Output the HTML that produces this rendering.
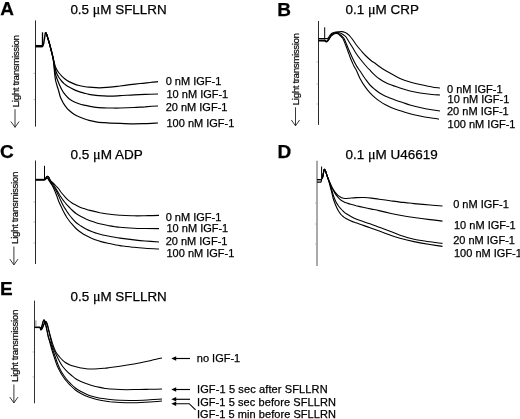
<!DOCTYPE html>
<html><head><meta charset="utf-8"><title>Figure</title>
<style>
html,body{margin:0;padding:0;background:#fff;}
svg{display:block;}
text{font-family:"Liberation Sans",sans-serif;fill:#000;stroke:#000;stroke-width:0.25px;}
</style></head>
<body>
<svg width="520" height="419" viewBox="0 0 520 419" font-size="11">
<rect width="520" height="419" fill="#fff"/>
<text x="0.2" y="15.2" font-size="19" font-weight="bold">A</text>
<text x="70.4" y="13.9" font-size="13.4" textLength="96.3" lengthAdjust="spacingAndGlyphs">0.5 <tspan font-family="'Liberation Serif',serif" font-size="14">μ</tspan>M SFLLRN</text>
<path d="M35.5,20.4V126.6" stroke="#2a2a2a" stroke-width="1" fill="none"/><path d="M33.5,73.4h1.6" stroke="#aaa" stroke-width="0.8" fill="none"/><path d="M33.5,99.6h1.6" stroke="#aaa" stroke-width="0.8" fill="none"/>
<text transform="translate(18.8,107.2) rotate(-90)" font-size="9.9" textLength="72.3" lengthAdjust="spacing" style="stroke-width:0.2px">Light transmission</text><path d="M15.0,109.2V127.3M10.9,121.5L15.0,127.3L19.1,121.5" stroke="#222" stroke-width="0.9" fill="none"/>
<g fill="none" stroke="#000" stroke-width="1.20" stroke-linejoin="round" stroke-linecap="butt"><path d="M35.5,46.2H42.6" stroke-width="2.5"/><path d="M42.5,47V32.3" stroke-width="1.3"/><path d="M42.7,46.2L43.7,43.5L45.4,32.5" stroke-width="1.5"/><path d="M45.4,32.5C45.6,32.7 45.9,32.5 46.4,33.8C46.9,35.0 47.8,38.0 48.4,40.0C49.0,42.0 49.5,43.8 50.0,45.7C50.5,47.6 51.0,49.5 51.5,51.5C52.0,53.5 52.5,55.9 53.0,57.7C53.5,59.5 53.8,61.0 54.2,62.5C54.6,64.0 55.0,65.8 55.5,67.0C56.0,68.2 56.4,69.0 57.0,70.0C57.6,71.0 58.2,72.0 59.0,73.0C59.8,74.0 61.0,75.3 62.0,76.3C63.0,77.3 63.8,78.1 65.0,79.0C66.2,79.9 67.5,80.8 69.0,81.6C70.5,82.4 72.3,83.2 74.0,83.9C75.7,84.6 77.3,85.1 79.0,85.5C80.7,85.9 82.3,86.2 84.0,86.5C85.7,86.8 87.0,87.0 89.0,87.2C91.0,87.4 93.7,87.6 96.0,87.7C98.3,87.8 100.7,87.8 103.0,87.7C105.3,87.6 107.2,87.5 110.0,87.2C112.8,86.9 116.7,86.4 120.0,86.0C123.3,85.6 126.7,85.1 130.0,84.7C133.3,84.3 136.7,83.9 140.0,83.5C143.3,83.1 147.0,82.8 150.0,82.5C153.0,82.2 156.7,81.8 158.0,81.6"/><path d="M45.4,32.5C45.6,32.7 45.9,32.5 46.4,33.8C46.9,35.0 47.8,38.0 48.4,40.0C49.0,42.0 49.5,43.8 50.0,45.7C50.5,47.6 51.0,49.5 51.5,51.5C52.0,53.5 52.6,55.8 53.0,57.7C53.4,59.6 53.7,61.0 54.1,63.0C54.5,65.0 55.0,68.2 55.5,70.0C56.0,71.8 56.5,72.9 57.0,74.0C57.5,75.1 58.0,76.0 58.5,76.8C59.0,77.6 59.4,78.2 60.0,79.0C60.6,79.8 61.3,80.7 62.0,81.5C62.7,82.3 63.2,82.9 64.0,83.6C64.8,84.3 65.7,84.9 66.5,85.5C67.3,86.1 67.8,86.3 69.0,87.0C70.2,87.7 72.3,88.8 74.0,89.6C75.7,90.4 77.3,91.0 79.0,91.6C80.7,92.2 82.3,92.6 84.0,93.1C85.7,93.5 87.0,93.9 89.0,94.3C91.0,94.7 93.7,95.1 96.0,95.4C98.3,95.7 100.7,95.8 103.0,95.9C105.3,96.0 107.2,96.1 110.0,96.1C112.8,96.1 116.0,95.9 120.0,95.7C124.0,95.5 129.8,95.0 134.0,94.8C138.2,94.6 141.0,94.5 145.0,94.4C149.0,94.3 155.8,94.1 158.0,94.0"/><path d="M45.4,32.5C45.6,32.7 45.9,32.5 46.4,33.8C46.9,35.0 47.8,38.0 48.4,40.0C49.0,42.0 49.5,43.8 50.0,45.7C50.5,47.6 51.0,49.5 51.5,51.5C52.0,53.5 52.6,55.6 53.0,57.7C53.4,59.8 53.7,61.6 54.0,64.0C54.3,66.4 54.7,70.0 55.0,72.0C55.3,74.0 55.5,74.5 56.0,76.0C56.5,77.5 57.3,79.5 58.0,81.2C58.7,82.9 59.3,84.5 60.0,86.0C60.7,87.5 61.3,88.8 62.0,90.0C62.7,91.2 63.2,92.2 64.0,93.2C64.8,94.2 65.7,95.3 66.5,96.2C67.3,97.1 67.8,97.8 69.0,98.7C70.2,99.6 72.3,101.0 74.0,101.8C75.7,102.6 77.3,103.2 79.0,103.8C80.7,104.4 82.3,104.8 84.0,105.2C85.7,105.6 87.0,105.9 89.0,106.2C91.0,106.5 93.7,107.0 96.0,107.3C98.3,107.6 100.7,107.7 103.0,107.8C105.3,107.9 107.2,108.0 110.0,108.0C112.8,108.0 116.0,108.1 120.0,108.0C124.0,107.9 129.8,107.7 134.0,107.5C138.2,107.3 141.0,107.0 145.0,106.8C149.0,106.5 155.8,106.1 158.0,106.0"/><path d="M45.4,32.5C45.6,32.7 45.9,32.5 46.4,33.8C46.9,35.0 47.8,38.0 48.4,40.0C49.0,42.0 49.5,43.8 50.0,45.7C50.5,47.6 51.0,49.5 51.5,51.5C52.0,53.5 52.6,55.5 53.0,57.7C53.4,59.9 53.5,62.0 53.8,64.5C54.1,67.0 54.3,70.4 54.6,73.0C54.9,75.6 55.1,77.9 55.5,80.0C55.9,82.1 56.5,83.7 57.0,85.5C57.5,87.3 58.2,89.2 58.7,91.0C59.2,92.8 59.5,94.4 60.0,96.0C60.5,97.6 61.3,99.1 62.0,100.5C62.7,101.9 63.2,103.0 64.0,104.2C64.8,105.4 65.7,106.6 66.5,107.6C67.3,108.6 67.8,109.2 69.0,110.3C70.2,111.4 72.3,113.2 74.0,114.3C75.7,115.4 77.3,116.1 79.0,116.8C80.7,117.5 82.3,118.1 84.0,118.7C85.7,119.3 87.0,119.8 89.0,120.3C91.0,120.8 93.7,121.4 96.0,121.8C98.3,122.2 100.7,122.4 103.0,122.6C105.3,122.8 107.2,123.0 110.0,123.1C112.8,123.2 116.0,123.3 120.0,123.4C124.0,123.5 129.8,123.8 134.0,123.8C138.2,123.8 141.0,123.7 145.0,123.6C149.0,123.5 155.8,123.1 158.0,123.0"/></g>
<text x="165.7" y="85.0">0 nM IGF-1</text>
<text x="166.5" y="98.2">10 nM IGF-1</text>
<text x="165.7" y="110.5">20 nM IGF-1</text>
<text x="166.5" y="127.0">100 nM IGF-1</text>
<text x="277.2" y="15.5" font-size="19" font-weight="bold">B</text>
<text x="345.6" y="13.9" font-size="13.4" textLength="73.3" lengthAdjust="spacingAndGlyphs">0.1 <tspan font-family="'Liberation Serif',serif" font-size="14">μ</tspan>M CRP</text>
<path d="M318.5,21.0V124.9" stroke="#2a2a2a" stroke-width="1" fill="none"/><path d="M316.5,62.0h1.6" stroke="#aaa" stroke-width="0.8" fill="none"/><path d="M316.5,84.0h1.6" stroke="#aaa" stroke-width="0.8" fill="none"/><path d="M316.5,104.0h1.6" stroke="#aaa" stroke-width="0.8" fill="none"/>
<text transform="translate(299.3,105.2) rotate(-90)" font-size="9.9" textLength="72.3" lengthAdjust="spacing" style="stroke-width:0.2px">Light transmission</text><path d="M295.5,107.3V125.8M291.4,120.0L295.5,125.8L299.6,120.0" stroke="#222" stroke-width="0.9" fill="none"/>
<g fill="none" stroke="#000" stroke-width="1.10" stroke-linejoin="round" stroke-linecap="butt"><path d="M324.7,27.3V39.5" stroke-width="1"/><path d="M318.5,38.5L324.5,38.5C325.1,38.5 327.0,38.9 328.0,38.2C329.0,37.6 329.7,35.5 330.5,34.6C331.3,33.7 332.1,33.2 333.0,32.8C333.9,32.4 335.0,32.2 336.0,32.0C337.0,31.8 338.0,31.8 339.0,31.7C340.0,31.6 341.1,31.5 342.0,31.6C342.9,31.7 343.7,31.9 344.5,32.2C345.3,32.5 346.2,33.0 347.0,33.5C347.8,34.0 348.3,34.5 349.0,35.2C349.7,35.9 350.2,36.6 351.0,37.5C351.8,38.4 352.7,39.6 353.5,40.8C354.3,42.0 354.8,42.9 356.0,44.5C357.2,46.1 359.3,48.6 361.0,50.5C362.7,52.4 364.3,54.3 366.0,56.0C367.7,57.7 369.3,59.2 371.0,60.5C372.7,61.8 374.5,62.9 376.0,64.0C377.5,65.1 378.5,66.0 380.0,67.0C381.5,68.0 383.3,69.2 385.0,70.2C386.7,71.2 387.5,71.6 390.0,73.0C392.5,74.4 396.7,76.9 400.0,78.4C403.3,79.9 406.7,81.0 410.0,82.0C413.3,83.0 416.3,83.7 420.0,84.5C423.7,85.3 428.7,86.4 432.0,87.0C435.3,87.6 438.7,87.8 440.0,88.0"/><path d="M318.5,40.0L325.0,40.1C325.2,40.3 325.8,41.2 326.2,41.2C326.6,41.2 327.1,40.8 327.6,40.3C328.1,39.8 328.7,38.8 329.3,38.0C329.9,37.2 330.3,36.1 331.0,35.3C331.7,34.5 332.6,33.9 333.5,33.4C334.4,32.9 335.5,32.6 336.5,32.5C337.5,32.4 338.5,32.5 339.5,32.8C340.5,33.1 341.7,33.7 342.5,34.2C343.3,34.7 343.9,35.1 344.5,35.6C345.1,36.1 345.3,36.1 346.0,37.0C346.7,37.9 347.7,39.7 348.5,41.0C349.3,42.3 350.2,43.7 351.0,45.0C351.8,46.3 352.7,47.6 353.5,49.0C354.3,50.4 354.8,51.4 356.0,53.2C357.2,55.0 359.3,57.9 361.0,60.0C362.7,62.1 364.5,64.3 366.0,66.0C367.5,67.7 368.5,68.7 370.0,70.2C371.5,71.8 373.3,73.8 375.0,75.3C376.7,76.8 378.3,78.0 380.0,79.2C381.7,80.4 383.3,81.3 385.0,82.2C386.7,83.1 387.5,83.5 390.0,84.5C392.5,85.5 396.7,86.9 400.0,88.0C403.3,89.1 406.7,90.2 410.0,91.0C413.3,91.8 416.3,92.4 420.0,93.0C423.7,93.6 428.7,94.2 432.0,94.5C435.3,94.8 438.7,94.9 440.0,95.0"/><path d="M318.5,40.5L325.0,40.6C325.2,40.8 325.8,41.6 326.2,41.6C326.6,41.6 327.1,41.3 327.6,40.8C328.1,40.3 328.7,39.2 329.3,38.4C329.9,37.6 330.3,36.6 331.0,35.8C331.7,35.0 332.7,34.3 333.5,33.8C334.3,33.3 335.2,33.1 336.0,33.0C336.8,32.9 337.8,33.1 338.5,33.4C339.2,33.7 339.8,34.4 340.5,35.0C341.2,35.6 341.9,36.2 342.5,36.8C343.1,37.4 343.4,37.5 344.0,38.5C344.6,39.5 345.3,41.4 346.0,43.0C346.7,44.6 347.0,45.7 348.0,48.0C349.0,50.3 350.7,54.2 352.0,57.0C353.3,59.8 354.7,62.7 356.0,65.0C357.3,67.3 358.5,68.8 360.0,71.0C361.5,73.2 363.3,76.2 365.0,78.5C366.7,80.8 368.3,83.2 370.0,85.0C371.7,86.8 373.3,88.1 375.0,89.5C376.7,90.9 378.3,92.2 380.0,93.3C381.7,94.4 383.3,95.2 385.0,96.0C386.7,96.8 388.3,97.3 390.0,98.0C391.7,98.7 393.0,99.3 395.0,100.0C397.0,100.7 399.5,101.5 402.0,102.3C404.5,103.1 407.0,104.1 410.0,105.0C413.0,105.9 416.7,106.8 420.0,107.5C423.3,108.2 426.7,108.9 430.0,109.5C433.3,110.1 438.3,110.8 440.0,111.0"/><path d="M318.5,41.0L325.0,41.0C325.2,41.2 325.8,42.0 326.2,42.0C326.6,42.0 327.1,41.7 327.6,41.2C328.1,40.7 328.7,39.6 329.3,38.8C329.9,38.0 330.3,37.0 331.0,36.2C331.7,35.4 332.7,34.7 333.5,34.2C334.3,33.7 335.1,33.5 335.8,33.4C336.6,33.3 337.3,33.4 338.0,33.8C338.7,34.2 339.4,35.1 340.0,35.6C340.6,36.1 341.0,36.5 341.5,37.0C342.0,37.5 342.2,37.3 343.0,38.8C343.8,40.3 345.1,43.8 346.0,46.0C346.9,48.2 347.5,50.2 348.2,52.0C348.9,53.8 349.4,55.4 350.0,57.0C350.6,58.6 351.3,60.2 352.0,61.7C352.7,63.2 353.2,64.8 354.0,66.3C354.8,67.8 355.5,68.5 356.5,70.5C357.5,72.5 358.6,75.8 360.0,78.5C361.4,81.2 363.3,84.2 365.0,86.6C366.7,89.0 368.3,91.0 370.0,92.8C371.7,94.6 373.3,96.2 375.0,97.6C376.7,99.0 378.3,100.2 380.0,101.4C381.7,102.6 383.3,103.6 385.0,104.5C386.7,105.4 388.3,106.2 390.0,107.0C391.7,107.8 393.0,108.3 395.0,109.0C397.0,109.7 399.5,110.5 402.0,111.3C404.5,112.1 407.0,113.0 410.0,113.8C413.0,114.6 416.7,115.3 420.0,116.0C423.3,116.7 426.8,117.3 430.0,117.8C433.2,118.3 437.5,119.0 439.0,119.2"/></g>
<text x="447.0" y="93.0">0 nM IGF-1</text>
<text x="447.6" y="102.8">10 nM IGF-1</text>
<text x="447.0" y="115.4">20 nM IGF-1</text>
<text x="447.6" y="127.8">100 nM IGF-1</text>
<text x="0.0" y="158.2" font-size="19" font-weight="bold">C</text>
<text x="70.5" y="159.4" font-size="13.4" textLength="72.3" lengthAdjust="spacingAndGlyphs">0.5 <tspan font-family="'Liberation Serif',serif" font-size="14">μ</tspan>M ADP</text>
<path d="M35.5,160.5V264.0" stroke="#2a2a2a" stroke-width="1" fill="none"/><path d="M33.5,202.0h1.6" stroke="#aaa" stroke-width="0.8" fill="none"/><path d="M33.5,222.0h1.6" stroke="#aaa" stroke-width="0.8" fill="none"/><path d="M33.5,243.0h1.6" stroke="#aaa" stroke-width="0.8" fill="none"/>
<text transform="translate(18.1,243.9) rotate(-90)" font-size="9.9" textLength="72.3" lengthAdjust="spacing" style="stroke-width:0.2px">Light transmission</text><path d="M13.9,246.5V264.9M9.8,259.1L13.9,264.9L18.0,259.1" stroke="#222" stroke-width="0.9" fill="none"/>
<g fill="none" stroke="#000" stroke-width="1.10" stroke-linejoin="round" stroke-linecap="butt"><path d="M35.5,179.8H44.6" stroke-width="2"/><path d="M44.5,165.8V180.4" stroke-width="1"/><path d="M45.0,179.8C45.2,179.4 45.6,178.2 46.0,177.6C46.4,177.0 46.8,176.2 47.3,176.2C47.8,176.1 48.3,176.6 48.8,177.3C49.3,178.0 49.8,179.6 50.5,180.5C51.2,181.4 52.1,181.9 53.0,182.8C53.9,183.7 55.0,184.9 56.0,186.0C57.0,187.1 58.4,188.5 59.2,189.5C60.0,190.5 59.8,190.8 60.8,192.0C61.8,193.2 63.7,195.4 65.0,196.8C66.3,198.2 67.3,199.4 68.5,200.4C69.7,201.4 70.8,202.2 72.0,203.0C73.2,203.8 74.7,204.5 76.0,205.2C77.3,205.9 78.7,206.6 80.0,207.2C81.3,207.8 82.3,208.0 84.0,208.5C85.7,209.0 87.3,209.7 90.0,210.4C92.7,211.1 96.7,212.0 100.0,212.7C103.3,213.3 106.7,213.9 110.0,214.3C113.3,214.7 116.0,214.9 120.0,215.2C124.0,215.4 129.8,215.7 134.0,215.8C138.2,215.9 140.8,215.8 145.0,215.7C149.2,215.6 156.7,215.4 159.0,215.4"/><path d="M45.0,179.8C45.2,179.4 45.6,178.2 46.0,177.6C46.4,177.0 46.8,176.2 47.3,176.2C47.8,176.1 48.3,176.5 48.8,177.3C49.3,178.1 49.7,179.7 50.4,180.8C51.1,181.9 52.1,182.7 53.0,184.0C53.9,185.3 55.0,187.1 56.0,188.8C57.0,190.5 58.3,192.7 59.2,194.2C60.1,195.7 60.7,196.6 61.5,197.8C62.3,199.0 63.2,200.2 64.0,201.3C64.8,202.4 65.7,203.5 66.5,204.4C67.3,205.3 68.1,206.1 69.0,207.0C69.9,207.9 70.8,208.9 72.0,210.0C73.2,211.1 74.5,212.4 76.0,213.5C77.5,214.6 79.3,215.7 81.0,216.6C82.7,217.5 84.3,218.3 86.0,219.1C87.7,219.8 89.3,220.5 91.0,221.1C92.7,221.7 94.3,222.2 96.0,222.7C97.7,223.2 99.0,223.5 101.0,224.0C103.0,224.5 105.7,225.1 108.0,225.5C110.3,225.9 113.0,226.4 115.0,226.7C117.0,227.0 116.8,227.1 120.0,227.3C123.2,227.6 129.8,228.0 134.0,228.2C138.2,228.4 140.8,228.4 145.0,228.5C149.2,228.6 156.7,228.6 159.0,228.6"/><path d="M45.0,179.8C45.2,179.6 45.8,178.9 46.2,178.6C46.6,178.2 47.0,177.6 47.4,177.7C47.8,177.8 48.0,178.7 48.5,179.4C49.0,180.1 49.5,180.9 50.2,181.8C50.9,182.7 51.6,183.7 52.5,185.0C53.4,186.3 54.5,188.0 55.4,189.6C56.3,191.2 57.1,192.7 58.0,194.5C58.9,196.3 59.9,198.6 60.8,200.5C61.7,202.4 62.6,204.4 63.5,206.0C64.4,207.6 65.2,208.7 66.0,210.0C66.8,211.3 67.7,212.6 68.5,213.8C69.3,215.0 69.8,215.6 71.0,217.0C72.2,218.4 74.3,221.0 76.0,222.5C77.7,224.0 79.3,224.9 81.0,226.0C82.7,227.1 84.3,228.1 86.0,229.0C87.7,229.9 89.3,230.6 91.0,231.3C92.7,232.0 94.3,232.6 96.0,233.1C97.7,233.6 99.0,234.0 101.0,234.5C103.0,235.0 105.7,235.5 108.0,236.0C110.3,236.5 113.0,237.0 115.0,237.3C117.0,237.7 116.8,237.7 120.0,238.1C123.2,238.5 129.8,239.4 134.0,239.9C138.2,240.4 140.8,240.7 145.0,241.0C149.2,241.3 156.7,241.8 159.0,242.0"/><path d="M45.0,179.8C45.2,179.6 45.8,178.9 46.2,178.6C46.6,178.2 47.0,177.6 47.4,177.7C47.8,177.8 48.1,178.7 48.5,179.4C48.9,180.1 49.4,181.0 50.0,182.0C50.6,183.0 51.5,184.2 52.3,185.6C53.0,187.0 53.7,188.4 54.5,190.2C55.3,192.0 56.2,194.5 57.0,196.5C57.8,198.5 58.3,200.4 59.0,202.0C59.7,203.6 60.2,204.7 61.0,206.3C61.8,207.9 62.7,209.9 63.5,211.5C64.3,213.1 65.2,214.6 66.0,216.0C66.8,217.4 67.7,218.6 68.5,219.8C69.3,221.0 69.8,221.6 71.0,223.0C72.2,224.4 74.3,226.9 76.0,228.5C77.7,230.1 79.3,231.3 81.0,232.5C82.7,233.7 84.3,234.7 86.0,235.6C87.7,236.5 89.3,237.3 91.0,238.1C92.7,238.8 94.3,239.5 96.0,240.1C97.7,240.7 99.0,241.1 101.0,241.6C103.0,242.1 105.7,242.7 108.0,243.2C110.3,243.7 113.0,244.3 115.0,244.7C117.0,245.1 116.8,245.2 120.0,245.6C123.2,246.0 129.8,246.9 134.0,247.3C138.2,247.8 140.8,248.0 145.0,248.3C149.2,248.6 156.7,248.9 159.0,249.0"/></g>
<text x="165.7" y="220.7">0 nM IGF-1</text>
<text x="166.5" y="232.0">10 nM IGF-1</text>
<text x="165.7" y="244.5">20 nM IGF-1</text>
<text x="166.5" y="257.0">100 nM IGF-1</text>
<text x="277.4" y="158.2" font-size="19" font-weight="bold">D</text>
<text x="345.5" y="159.4" font-size="13.4" textLength="92.3" lengthAdjust="spacingAndGlyphs">0.1 <tspan font-family="'Liberation Serif',serif" font-size="14">μ</tspan>M U46619</text>
<path d="M317.0,160.8V266.0" stroke="#555" stroke-width="1" fill="none"/><path d="M315.0,203.0h1.6" stroke="#aaa" stroke-width="0.8" fill="none"/><path d="M315.0,224.0h1.6" stroke="#aaa" stroke-width="0.8" fill="none"/><path d="M315.0,244.0h1.6" stroke="#aaa" stroke-width="0.8" fill="none"/>
<g fill="none" stroke="#000" stroke-width="1.10" stroke-linejoin="round" stroke-linecap="butt"><path d="M317,179.7H321.6" stroke-width="1.4"/><path d="M317,182.1H321L321.7,179.5" stroke-width="1.1"/><path d="M321.6,180V166.5" stroke-width="1"/><path d="M322.3,178.5C322.4,178.0 322.7,177.0 323.0,175.5C323.3,174.0 323.8,170.1 324.2,169.4C324.6,168.7 325.1,170.2 325.7,171.5C326.2,172.8 326.9,175.2 327.5,177.0C328.1,178.8 328.9,180.5 329.6,182.0C330.3,183.5 330.9,184.9 331.5,186.2C332.1,187.5 332.7,188.6 333.3,189.6C333.9,190.6 334.5,191.4 335.2,192.3C335.9,193.2 336.7,194.1 337.5,194.8C338.3,195.6 339.2,196.2 340.0,196.8C340.8,197.4 341.7,197.8 342.5,198.1C343.3,198.4 344.0,198.5 345.0,198.5C346.0,198.5 346.7,198.5 348.5,198.3C350.3,198.2 353.4,197.7 356.0,197.6C358.6,197.5 361.4,197.4 364.0,197.5C366.6,197.6 369.0,197.8 371.5,198.1C374.0,198.4 375.9,198.8 379.0,199.2C382.1,199.6 386.5,200.2 390.0,200.7C393.5,201.2 397.3,201.8 400.0,202.1C402.7,202.4 403.7,202.3 406.0,202.6C408.3,202.8 410.0,203.2 414.0,203.6C418.0,204.0 425.2,204.6 430.0,205.0C434.8,205.4 440.4,205.8 442.5,206.0"/><path d="M322.3,178.5C322.4,178.0 322.7,177.0 323.0,175.5C323.3,174.0 323.8,170.1 324.2,169.4C324.6,168.7 325.1,170.2 325.7,171.5C326.2,172.8 326.9,175.2 327.5,177.0C328.1,178.8 328.9,180.5 329.5,182.1C330.1,183.7 330.8,185.2 331.4,186.5C332.0,187.8 332.7,189.0 333.3,190.2C333.9,191.4 334.5,192.5 335.2,193.6C335.9,194.7 336.9,195.9 337.7,196.9C338.5,197.9 339.2,198.6 340.0,199.3C340.8,200.0 341.5,200.5 342.3,201.0C343.1,201.5 344.0,202.0 345.0,202.4C346.0,202.8 346.7,203.1 348.5,203.6C350.3,204.1 353.4,205.0 356.0,205.7C358.6,206.3 361.4,206.9 364.0,207.5C366.6,208.1 369.0,208.6 371.5,209.1C374.0,209.6 375.9,209.9 379.0,210.6C382.1,211.3 386.5,212.4 390.0,213.2C393.5,214.0 396.0,214.6 400.0,215.3C404.0,216.0 409.0,216.8 414.0,217.5C419.0,218.2 425.2,219.0 430.0,219.6C434.8,220.2 440.4,220.8 442.5,221.1"/><path d="M322.3,178.5C322.4,178.0 322.7,177.0 323.0,175.5C323.3,174.0 323.8,170.1 324.2,169.4C324.6,168.7 325.1,170.2 325.7,171.5C326.2,172.8 326.9,175.2 327.5,177.0C328.1,178.8 328.8,180.6 329.4,182.3C330.0,184.1 330.5,185.8 331.0,187.5C331.5,189.2 332.0,190.9 332.5,192.5C333.0,194.1 333.4,195.7 334.0,197.3C334.6,198.9 335.2,200.6 336.0,202.0C336.8,203.4 337.7,204.8 338.5,206.0C339.3,207.2 340.2,208.1 341.0,209.0C341.8,209.9 342.7,210.8 343.5,211.5C344.3,212.2 344.8,212.7 346.0,213.5C347.2,214.3 349.3,215.6 351.0,216.5C352.7,217.4 354.3,218.3 356.0,219.0C357.7,219.7 358.7,220.0 361.0,220.8C363.3,221.6 366.8,222.7 370.0,223.8C373.2,224.9 376.7,226.3 380.0,227.5C383.3,228.7 386.7,229.9 390.0,231.2C393.3,232.5 396.0,233.9 400.0,235.2C404.0,236.5 409.0,238.1 414.0,239.2C419.0,240.3 425.2,241.1 430.0,241.8C434.8,242.5 440.4,243.1 442.5,243.4"/><path d="M322.3,178.5C322.4,178.0 322.7,177.0 323.0,175.5C323.3,174.0 323.8,170.1 324.2,169.4C324.6,168.7 325.1,170.2 325.7,171.5C326.2,172.8 326.9,175.2 327.5,177.0C328.1,178.8 328.7,180.7 329.2,182.5C329.7,184.3 330.2,186.3 330.6,188.0C331.0,189.7 331.3,190.6 331.8,192.5C332.3,194.4 332.8,197.2 333.5,199.5C334.2,201.8 335.2,204.1 336.0,206.0C336.8,207.9 337.7,209.6 338.5,211.0C339.3,212.4 340.2,213.5 341.0,214.5C341.8,215.5 342.7,216.1 343.5,216.8C344.3,217.5 344.8,217.8 346.0,218.5C347.2,219.2 349.5,220.3 351.0,221.0C352.5,221.7 353.5,222.0 355.0,222.5C356.5,223.0 357.5,223.3 360.0,224.2C362.5,225.1 366.7,226.5 370.0,227.7C373.3,228.9 376.7,230.1 380.0,231.3C383.3,232.5 386.7,233.8 390.0,235.0C393.3,236.2 396.0,237.2 400.0,238.3C404.0,239.4 409.0,240.6 414.0,241.6C419.0,242.6 425.2,243.7 430.0,244.5C434.8,245.3 440.4,246.1 442.5,246.4"/></g>
<text x="453.2" y="208.2">0 nM IGF-1</text>
<text x="454.0" y="228.6">10 nM IGF-1</text>
<text x="453.2" y="244.1">20 nM IGF-1</text>
<text x="454.0" y="256.6">100 nM IGF-1</text>
<text x="0.0" y="295.1" font-size="19" font-weight="bold">E</text>
<text x="70.5" y="300.6" font-size="13.4" textLength="96.3" lengthAdjust="spacingAndGlyphs">0.5 <tspan font-family="'Liberation Serif',serif" font-size="14">μ</tspan>M SFLLRN</text>
<path d="M34.5,300.6V403.3" stroke="#333" stroke-width="1" fill="none"/><path d="M32.5,352.0h1.6" stroke="#aaa" stroke-width="0.8" fill="none"/><path d="M32.5,377.0h1.6" stroke="#aaa" stroke-width="0.8" fill="none"/>
<text transform="translate(18.1,381.9) rotate(-90)" font-size="9.9" textLength="72.3" lengthAdjust="spacing" style="stroke-width:0.2px">Light transmission</text><path d="M13.9,384.5V402.9M9.8,397.1L13.9,402.9L18.0,397.1" stroke="#222" stroke-width="0.9" fill="none"/>
<g fill="none" stroke="#000" stroke-width="1.05" stroke-linejoin="round" stroke-linecap="butt"><path d="M34.5,327.3H40.2" stroke-width="1.6"/><path d="M35.9,320.4V327" stroke-width="0.9" stroke="#777"/><path d="M40.2,327.6C40.4,328.0 40.9,329.9 41.3,329.8C41.7,329.7 42.2,328.3 42.8,327.2C43.3,326.1 44.1,324.1 44.6,323.2C45.1,322.3 45.5,321.4 46.0,321.6C46.5,321.8 46.9,323.1 47.4,324.5C47.9,325.9 48.3,328.2 48.8,330.0C49.3,331.8 49.7,333.6 50.2,335.3C50.7,337.1 51.1,338.9 51.6,340.5C52.1,342.1 52.5,343.6 53.0,345.0C53.5,346.4 54.0,347.8 54.5,349.0C55.0,350.2 55.4,351.2 56.0,352.2C56.6,353.2 57.3,354.1 58.0,355.0C58.7,355.9 59.2,356.6 60.0,357.5C60.8,358.4 61.7,359.4 62.5,360.2C63.3,361.0 63.8,361.4 65.0,362.2C66.2,363.0 68.2,364.1 70.0,364.9C71.8,365.7 74.2,366.3 76.0,366.8C77.8,367.3 79.3,367.7 81.0,368.0C82.7,368.3 84.3,368.5 86.0,368.7C87.7,368.9 89.0,369.0 91.0,369.0C93.0,369.0 95.7,368.9 98.0,368.8C100.3,368.7 103.0,368.4 105.0,368.2C107.0,368.0 107.5,367.9 110.0,367.6C112.5,367.3 116.0,366.8 120.0,366.2C124.0,365.6 129.8,364.7 134.0,364.0C138.2,363.3 141.5,362.6 145.0,361.8C148.5,361.1 152.2,360.1 155.0,359.5C157.8,358.9 160.8,358.2 162.0,358.0"/><path d="M40.2,327.6C40.4,328.0 40.8,329.9 41.2,329.8C41.6,329.7 42.2,328.3 42.7,327.2C43.2,326.1 43.9,324.0 44.4,323.0C44.9,322.0 45.3,321.1 45.8,321.4C46.3,321.6 46.7,323.0 47.2,324.5C47.7,326.0 48.1,328.4 48.6,330.3C49.1,332.2 49.5,334.1 50.0,336.0C50.5,337.9 50.9,339.8 51.3,341.5C51.7,343.2 52.0,345.1 52.5,346.5C53.0,347.9 53.6,349.1 54.0,350.0C54.4,350.9 54.4,350.9 55.0,352.2C55.6,353.4 56.7,355.8 57.5,357.5C58.3,359.2 59.2,360.8 60.0,362.3C60.8,363.8 61.5,365.0 62.5,366.3C63.5,367.6 64.6,368.9 66.0,370.3C67.4,371.8 69.3,373.6 71.0,375.0C72.7,376.4 74.3,377.9 76.0,379.0C77.7,380.1 79.3,380.8 81.0,381.6C82.7,382.4 84.3,383.0 86.0,383.6C87.7,384.2 89.0,384.6 91.0,385.2C93.0,385.8 95.7,386.5 98.0,387.0C100.3,387.5 103.0,388.1 105.0,388.4C107.0,388.7 107.5,388.8 110.0,389.0C112.5,389.2 116.0,389.5 120.0,389.6C124.0,389.7 129.0,389.7 134.0,389.6C139.0,389.6 145.3,389.4 150.0,389.3C154.7,389.2 160.0,389.1 162.0,389.0"/><path d="M40.2,327.6C40.3,328.0 40.5,329.9 40.8,329.8C41.1,329.7 41.4,328.3 41.8,327.0C42.2,325.7 42.7,323.2 43.1,322.0C43.5,320.8 43.9,319.8 44.3,320.0C44.7,320.2 45.1,321.8 45.6,323.5C46.1,325.2 46.5,327.8 47.0,330.0C47.5,332.2 47.9,334.7 48.5,336.8C49.1,338.9 49.9,340.7 50.5,342.5C51.1,344.3 51.5,345.9 52.0,347.5C52.5,349.1 53.0,350.6 53.5,352.0C54.0,353.4 54.5,354.6 55.0,356.0C55.5,357.4 56.0,359.1 56.5,360.5C57.0,361.9 57.5,363.2 58.0,364.5C58.5,365.8 59.0,366.9 59.5,368.0C60.0,369.1 60.3,369.8 61.0,371.0C61.7,372.2 62.7,373.8 63.5,375.0C64.3,376.2 65.2,377.4 66.0,378.5C66.8,379.6 67.7,380.6 68.5,381.5C69.3,382.4 69.8,382.8 71.0,384.0C72.2,385.2 74.3,387.2 76.0,388.5C77.7,389.8 79.3,390.6 81.0,391.5C82.7,392.4 84.3,393.2 86.0,394.0C87.7,394.8 89.0,395.4 91.0,396.0C93.0,396.6 95.7,397.2 98.0,397.7C100.3,398.2 103.0,398.5 105.0,398.8C107.0,399.1 107.5,399.2 110.0,399.5C112.5,399.8 116.0,400.2 120.0,400.3C124.0,400.4 129.0,400.5 134.0,400.4C139.0,400.3 145.3,400.0 150.0,399.8C154.7,399.6 160.0,399.1 162.0,399.0"/><path d="M40.2,327.6C40.3,328.0 40.5,329.9 40.7,329.8C40.9,329.7 41.2,328.3 41.6,327.0C42.0,325.7 42.5,323.2 42.9,322.0C43.3,320.8 43.6,319.6 44.0,319.8C44.4,320.1 44.8,321.8 45.3,323.5C45.8,325.2 46.3,327.9 46.8,330.2C47.3,332.4 47.7,334.9 48.2,337.0C48.7,339.1 49.5,341.1 50.0,343.0C50.5,344.9 51.0,346.8 51.5,348.5C52.0,350.2 52.5,351.9 53.0,353.5C53.5,355.1 54.0,356.5 54.5,358.0C55.0,359.5 55.5,361.1 56.0,362.5C56.5,363.9 56.8,365.0 57.5,366.5C58.2,368.0 59.1,369.8 60.0,371.5C60.9,373.2 62.0,375.0 63.0,376.5C64.0,378.0 65.1,379.3 66.0,380.5C66.9,381.7 67.7,382.6 68.5,383.5C69.3,384.4 69.8,384.8 71.0,386.0C72.2,387.2 74.3,389.2 76.0,390.5C77.7,391.8 79.3,392.6 81.0,393.5C82.7,394.4 84.3,395.3 86.0,396.0C87.7,396.7 89.0,397.2 91.0,397.8C93.0,398.4 95.7,399.2 98.0,399.7C100.3,400.2 103.0,400.7 105.0,401.0C107.0,401.3 107.5,401.4 110.0,401.7C112.5,401.9 116.0,402.3 120.0,402.5C124.0,402.7 129.0,402.9 134.0,402.8C139.0,402.7 145.3,402.3 150.0,402.0C154.7,401.7 160.0,401.2 162.0,401.1"/></g>
<path d="M175,358.5H190" stroke="#000" stroke-width="1.15" fill="none"/><path d="M171.3,358.5l4.9,-2.2v4.4z" fill="#000"/>
<path d="M175,389.5H190" stroke="#000" stroke-width="1.15" fill="none"/><path d="M171.3,389.5l4.9,-2.2v4.4z" fill="#000"/>
<path d="M175,399.3H190" stroke="#000" stroke-width="1.15" fill="none"/><path d="M171.3,399.3l4.9,-2.2v4.4z" fill="#000"/>
<path d="M175,403.7H189.2L195.6,409.8" stroke="#000" stroke-width="1.15" fill="none"/><path d="M171.3,403.7l4.9,-2.2v4.4z" fill="#000"/>
<text x="196.8" y="361.8">no IGF-1</text>
<text x="197.0" y="392.8" textLength="130.6" lengthAdjust="spacing">IGF-1 5 sec after SFLLRN</text>
<text x="197.0" y="405.7" textLength="138.9" lengthAdjust="spacing">IGF-1 5 sec before SFLLRN</text>
<text x="197.0" y="418.2" textLength="138.9" lengthAdjust="spacing">IGF-1 5 min before SFLLRN</text>
</svg>
</body></html>
